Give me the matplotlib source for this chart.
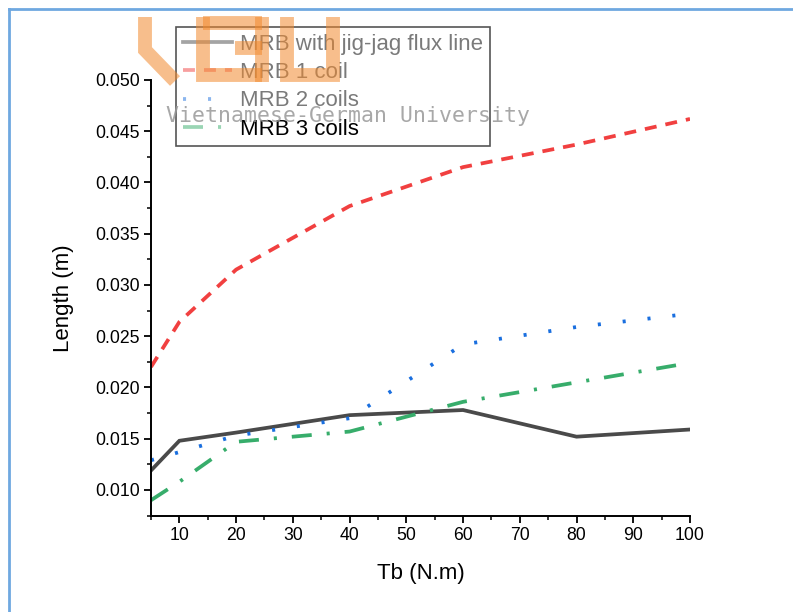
import numpy as np
import matplotlib
matplotlib.use('Agg')
import matplotlib.pyplot as plt
from matplotlib.ticker import MultipleLocator

plt.rcParams['font.family'] = ['Liberation Sans', 'DejaVu Sans']
plt.rcParams['lines.scale_dashes'] = False

# torque values (N.m)
tb = [5, 10, 20, 40, 60, 80, 100]

# brake length (m)
len_jigjag = [0.0119, 0.0148, 0.0156, 0.0173, 0.0178, 0.0152, 0.0159]
len_1coil = [0.0220, 0.0264, 0.0315, 0.0377, 0.0415, 0.0437, 0.0462]
len_2coils = [0.0129, 0.0137, 0.0153, 0.0170, 0.0242, 0.0259, 0.0272]
len_3coils = [0.0090, 0.0108, 0.0147, 0.0157, 0.0186, 0.0205, 0.0224]

labels = ['MRB with jig-jag flux line', 'MRB 1 coil', 'MRB 2 coils', 'MRB 3 coils']

W, H = 793, 612
fig = plt.figure(figsize=(W / 100, H / 100), dpi=100)


def fx(px):
    return px / W


def fy(py):
    return 1 - py / H


ax = fig.add_axes([fx(151), fy(515.6), fx(690) - fx(151), fy(80) - fy(515.6)])

lw = 2.7
ax.plot(tb, len_jigjag, color='#4a4a4a', lw=lw, solid_joinstyle='miter')
ax.plot(tb, len_1coil, color='#F14040', lw=lw, dashes=(8.6, 6.5))
ax.plot(tb, len_2coils, color='#1A6FDF', lw=lw, dashes=(2.2, 15.8))
ax.plot(tb, len_3coils, color='#37AD6B', lw=lw, dashes=(14.4, 10.8, 2.2, 10.8))

ax.set_xlim(5, 100)
ax.set_ylim(0.0075, 0.050)
ax.xaxis.set_major_locator(MultipleLocator(10))
ax.xaxis.set_minor_locator(MultipleLocator(5))
ax.yaxis.set_major_locator(MultipleLocator(0.005))
ax.yaxis.set_minor_locator(MultipleLocator(0.0025))
ax.set_xticks(range(10, 101, 10))
ax.yaxis.set_major_formatter(plt.FormatStrFormatter('%.3f'))

for s in ('top', 'right'):
    ax.spines[s].set_visible(False)
for s in ('left', 'bottom'):
    ax.spines[s].set_linewidth(1.4)
ax.tick_params(which='major', direction='out', length=5, width=1.3, labelsize=12.7, pad=3)
ax.tick_params(which='minor', direction='out', length=3, width=1.1)

ax.set_xlabel('Tb (N.m)', fontsize=16, labelpad=14)
ax.set_ylabel('Length (m)', fontsize=16, labelpad=15)

leg = ax.legend(labels, loc='upper left', bbox_to_anchor=(fx(176), fy(27)),
                bbox_transform=fig.transFigure, borderaxespad=0, fontsize=16,
                fancybox=False, framealpha=1, edgecolor='#555555',
                handlelength=2.2, handletextpad=0.4, borderpad=0.3,
                labelspacing=0.33)
leg.get_frame().set_linewidth(1.2)
for h in leg.get_lines():
    h.set_alpha(0.5)
for t, c in zip(leg.get_texts(), ['#7a7a7a', '#7a7a7a', '#7a7a7a', 'black']):
    t.set_color(c)

# overlay in pixel coordinates for the watermark and page frame
ov = fig.add_axes([0, 0, 1, 1], zorder=10)
ov.set_xlim(0, W)
ov.set_ylim(H, 0)
ov.axis('off')
ov.patch.set_alpha(0)

logo = [
    [(145, 17), (145, 50), (175, 81)],
    [(203, 17), (203, 75), (262, 75)],
    [(203, 23), (262, 23)],
    [(235, 48), (262, 48)],
    [(262, 17), (262, 82)],
    [(287, 17), (287, 75), (333, 75), (333, 17)],
]
for stroke in logo:
    xs, ys = zip(*stroke)
    ov.plot(xs, ys, color='#f28a2e', alpha=0.55, lw=10,
            solid_capstyle='butt', solid_joinstyle='miter')

ov.text(348, 116, 'Vietnamese-German University', family='DejaVu Sans Mono',
        fontsize=15.5, color='#999999', alpha=0.85, ha='center', va='center')

ov.plot([9, 9], [9, H], color='#6fa8e0', lw=2)
ov.plot([9, W], [9, 9], color='#6fa8e0', lw=2)

fig.savefig('out.png', dpi=100)
